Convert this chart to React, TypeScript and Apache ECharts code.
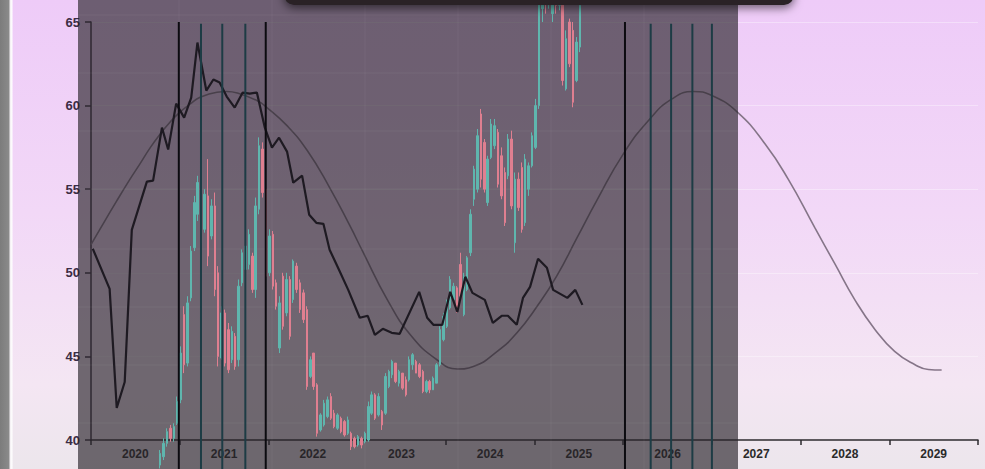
import React, { useEffect, useRef } from "react";
import * as echarts from "echarts";

// ---- axis categories ----
const yearLabels = ["2020", "2021", "2022", "2023", "2024", "2025", "2026", "2027", "2028", "2029"];
const yMin = 40;
const yMax = 65;
const yStep = 5;

// ---- cycle (sine-like) curve ----
const sineYears = [
  2020.0, 2020.1, 2020.29, 2020.44, 2020.55, 2020.67, 2020.78, 2020.89, 2021.0, 2021.12, 2021.23,
  2021.42, 2021.53, 2021.65, 2021.87, 2021.98, 2022.21, 2022.44, 2022.69, 2022.92, 2023.07, 2023.34,
  2023.6, 2023.9, 2024.13, 2024.31, 2024.58, 2024.8, 2025.03, 2025.25, 2025.48, 2025.7, 2026.0,
  2026.3, 2026.55, 2026.79, 2027.0, 2027.29, 2027.6, 2027.86, 2028.16, 2028.39, 2028.61, 2028.84,
  2029.06, 2029.29, 2029.44, 2029.59,
];
const sineValues = [
  51.68, 52.6, 54.3, 55.6, 56.5, 57.5, 58.3, 59.0, 59.6, 60.1, 60.5,
  60.8, 60.84, 60.75, 60.3, 59.9, 58.8, 57.3, 55.1, 52.8, 51.2, 48.4,
  46.3, 44.8, 44.25, 44.4, 45.3, 46.4, 48.0, 49.8, 52.1, 54.3, 57.1,
  59.2, 60.4, 60.84, 60.6, 59.6, 57.7, 55.6, 52.7, 50.5, 48.4, 46.6,
  45.3, 44.5, 44.22, 44.19,
];

// ---- black indicator line ----
const pmiYears = [
  2020.02, 2020.21, 2020.29, 2020.38, 2020.46, 2020.63, 2020.7, 2020.8, 2020.87, 2020.96,
  2021.05, 2021.13, 2021.2, 2021.3, 2021.38, 2021.45, 2021.53, 2021.62, 2021.71, 2021.79,
  2021.87, 2021.96, 2022.04, 2022.12, 2022.21, 2022.28, 2022.38, 2022.46, 2022.54, 2022.62,
  2022.69, 2022.78, 2022.9, 2023.03, 2023.12, 2023.2, 2023.29, 2023.39, 2023.48, 2023.7,
  2023.79, 2023.86, 2023.96, 2024.05, 2024.13, 2024.22, 2024.3, 2024.44, 2024.53, 2024.63,
  2024.7, 2024.8, 2024.87, 2024.95, 2025.04, 2025.14, 2025.21, 2025.37, 2025.46, 2025.54,
];
const pmiValues = [
  51.44, 49.04, 41.92, 43.47, 52.57, 55.45, 55.51, 58.68, 57.37, 60.12,
  59.28, 60.48, 63.77, 60.9, 61.56, 61.38, 60.54, 59.88, 60.78, 60.72,
  60.78, 58.68, 57.49, 58.08, 57.25, 55.39, 55.81, 53.47, 52.99, 52.93,
  51.38, 50.36, 48.98, 47.31, 47.43, 46.29, 46.65, 46.41, 46.35, 48.86,
  47.31, 46.89, 46.89, 48.86, 47.66, 49.76, 48.8, 48.38, 47.01, 47.43,
  47.43, 46.89, 48.5, 49.16, 50.84, 50.3, 48.98, 48.5, 48.98, 48.08,
];

// ---- candles: first date and spacing (two weeks), rows = [open, close, low, high] ----
const candleStart = 2020.78;
const candleStep = 1 / 26;
const candleRows = [
  [38.5, 39.2, 38.3, 39.4], [39.0, 39.8, 38.8, 40.1], [39.8, 40.5, 39.6, 40.7], [40.7, 40.1, 39.9, 40.9],
  [40.1, 40.8, 39.9, 41.0], [41.0, 42.3, 40.9, 42.6], [42.4, 45.2, 42.2, 45.6], [47.5, 44.5, 44.0, 48.0],
  [44.6, 48.2, 44.4, 48.6], [48.5, 51.3, 48.3, 51.6], [51.5, 54.2, 51.3, 54.6], [53.5, 55.4, 53.1, 55.8],
  [55.0, 51.8, 51.5, 55.2], [52.6, 54.7, 52.4, 55.0], [54.6, 51.0, 50.4, 56.8], [52.2, 54.0, 52.0, 54.4],
  [54.0, 49.0, 48.6, 54.8], [50.0, 45.0, 44.4, 50.4], [44.9, 47.6, 44.8, 48.0], [47.6, 44.6, 44.4, 47.8],
  [46.6, 44.2, 44.0, 47.0], [44.8, 46.5, 44.6, 46.8], [46.2, 44.4, 44.2, 46.4], [44.8, 49.2, 44.4, 49.6],
  [49.4, 51.2, 49.2, 51.4], [50.2, 51.6, 50.0, 51.8], [50.5, 52.3, 50.2, 52.6], [51.0, 49.0, 48.8, 51.2],
  [49.0, 54.0, 48.5, 54.5], [53.8, 57.6, 53.5, 58.1], [57.4, 54.8, 54.5, 57.8], [55.0, 49.8, 49.4, 55.3],
  [50.0, 52.2, 49.8, 52.6], [52.3, 49.2, 49.0, 52.5], [49.4, 48.0, 47.8, 49.6], [45.5, 48.2, 45.2, 48.6],
  [49.8, 46.8, 46.6, 50.0], [47.6, 49.6, 47.4, 50.0], [49.6, 46.2, 46.0, 49.8], [48.4, 50.7, 48.2, 50.8],
  [50.4, 49.0, 48.8, 50.6], [49.4, 47.8, 47.6, 49.6], [48.8, 47.2, 47.0, 49.0], [47.8, 43.2, 43.0, 48.0],
  [43.8, 44.8, 43.7, 45.0], [45.2, 43.2, 43.0, 45.2], [43.3, 40.4, 40.2, 43.4], [40.6, 41.5, 40.5, 41.6],
  [40.9, 42.2, 40.8, 42.4], [41.4, 42.4, 41.3, 42.6], [42.6, 41.3, 41.2, 42.8], [41.6, 40.8, 40.7, 41.8],
  [40.7, 41.5, 40.6, 41.6], [41.3, 40.5, 40.4, 41.4], [41.1, 40.3, 40.2, 41.2], [40.4, 41.2, 40.3, 41.4],
  [40.4, 39.6, 39.4, 40.5], [40.1, 39.6, 39.5, 40.2], [39.7, 40.2, 39.6, 40.3], [40.1, 39.7, 39.5, 40.2],
  [39.9, 40.4, 39.8, 40.5], [40.0, 42.0, 39.9, 42.3], [41.6, 42.7, 41.5, 42.9], [42.7, 41.3, 41.2, 42.8],
  [41.5, 42.6, 41.4, 42.8], [41.7, 40.9, 40.6, 41.8], [41.6, 43.8, 41.5, 44.0], [43.2, 44.1, 43.1, 44.2],
  [43.9, 44.7, 43.7, 44.8], [44.6, 43.5, 43.4, 44.6], [43.4, 44.1, 43.2, 44.2], [44.0, 43.1, 43.0, 44.0],
  [43.6, 42.7, 42.6, 43.8], [43.6, 44.8, 43.5, 45.0], [44.5, 45.1, 44.2, 45.2], [44.7, 44.0, 44.0, 44.8],
  [44.5, 43.8, 43.7, 44.6], [44.1, 42.9, 42.8, 44.2], [42.9, 43.5, 42.8, 43.6], [43.5, 43.0, 42.8, 43.6],
  [43.0, 43.7, 43.0, 43.8], [43.4, 44.5, 43.4, 44.6], [44.5, 46.6, 44.4, 46.8], [46.0, 47.4, 45.9, 47.6],
  [46.8, 48.2, 46.7, 48.4], [47.9, 49.6, 47.8, 49.8], [48.4, 49.2, 48.3, 49.4], [49.1, 47.8, 47.6, 49.2],
  [50.5, 48.6, 48.3, 51.2], [47.5, 49.8, 47.4, 50.0], [49.0, 50.9, 48.9, 51.0], [51.2, 53.5, 51.0, 53.8],
  [54.4, 56.2, 54.0, 56.4], [55.0, 58.2, 54.8, 58.6], [59.5, 55.6, 55.1, 59.8], [57.8, 55.0, 54.8, 58.0],
  [54.2, 56.8, 54.0, 57.0], [56.9, 58.9, 56.8, 59.2], [57.6, 58.8, 57.4, 59.2], [58.4, 55.3, 55.1, 58.6],
  [57.0, 54.6, 54.4, 57.5], [56.0, 53.0, 52.8, 56.3], [55.8, 58.0, 55.6, 58.3], [58.0, 54.0, 53.8, 58.5],
  [51.8, 55.6, 51.2, 56.0], [55.6, 53.9, 53.7, 56.0], [56.3, 52.6, 52.4, 56.6], [53.0, 56.8, 52.8, 57.1],
  [55.0, 56.4, 54.6, 56.6], [56.4, 58.2, 56.3, 58.4], [57.5, 60.0, 57.4, 60.4], [60.0, 66.5, 59.8, 67.5],
  [65.8, 67.2, 65.0, 68.0], [67.3, 66.2, 65.5, 68.0], [66.2, 67.5, 65.8, 68.2], [65.5, 67.0, 65.0, 68.0],
  [67.0, 66.0, 65.5, 68.2], [66.0, 67.5, 65.7, 68.5], [67.0, 61.5, 61.2, 67.5], [61.0, 64.0, 60.9, 64.5],
  [65.0, 62.5, 62.3, 65.2], [64.5, 60.2, 59.9, 65.0], [61.5, 63.8, 61.4, 64.1], [63.5, 66.0, 63.2, 67.0],
];

// ---- vertical marker lines ----
const blackLineYears = [2020.99, 2021.97, 2026.02];
const tealLineYears = [2021.24, 2021.48, 2021.74, 2026.31, 2026.54, 2026.78, 2027.0];
const lineTop = 65;
const lineBottom = 38.2;

export default function App() {
  const ref = useRef<HTMLDivElement>(null);

  useEffect(() => {
    if (!ref.current) return;
    const chart = echarts.init(ref.current, null, { renderer: "svg" });

    const candleData = candleRows.map((r, i) => [candleStart + i * candleStep, r[0], r[1], r[2], r[3]]);

    const makeVLine = (yr: number, color: string, top: number) => ({
      type: "line",
      xAxisIndex: 1,
      yAxisIndex: 0,
      data: [
        [yr, top],
        [yr, lineBottom],
      ],
      symbol: "none",
      clip: false,
      silent: true,
      z: 4,
      lineStyle: { color, width: 2 },
    });

    const overlayGrid: any[] = [];
    [15, 73, 131, 189, 249, 307, 365, 423].forEach((y) =>
      overlayGrid.push({
        type: "line",
        z: 1.6,
        silent: true,
        shape: { x1: 78, y1: y, x2: 738, y2: y },
        style: { stroke: "rgba(255,255,255,0.06)", lineWidth: 1 },
      })
    );
    [179, 272, 365, 458, 551, 644].forEach((x) =>
      overlayGrid.push({
        type: "line",
        z: 1.6,
        silent: true,
        shape: { x1: x, y1: 0, x2: x, y2: 469 },
        style: { stroke: "rgba(255,255,255,0.05)", lineWidth: 1 },
      })
    );

    chart.setOption({
      animation: false,
      backgroundColor: "transparent",
      grid: { left: 91, right: 7, top: 22, bottom: 29, containLabel: false },
      xAxis: [
        {
          type: "category",
          data: yearLabels,
          boundaryGap: true,
          position: "bottom",
          axisLine: { show: true, lineStyle: { color: "#2c2a2e", width: 1.5 } },
          axisTick: { show: true, length: 5, lineStyle: { color: "#2c2a2e", width: 1.5 } },
          axisLabel: {
            color: "#2a2a2a",
            fontFamily: "Liberation Sans, Arial, sans-serif",
            fontWeight: "bold",
            fontSize: 12,
            margin: 8,
          },
          splitLine: { show: false },
        },
        {
          type: "value",
          min: 2020,
          max: 2030,
          show: false,
          position: "bottom",
        },
      ],
      yAxis: {
        type: "value",
        min: yMin,
        max: yMax,
        interval: yStep,
        axisLine: { show: true, lineStyle: { color: "#3a3040", width: 1.5 } },
        axisTick: { show: true, length: 6, lineStyle: { color: "#3a3040", width: 1.5 } },
        axisLabel: {
          color: "#3b2d45",
          fontFamily: "Liberation Sans, Arial, sans-serif",
          fontWeight: "bold",
          fontSize: 13,
          margin: 11,
        },
        splitLine: { show: true, lineStyle: { color: "rgba(255,255,255,0.35)", width: 1 } },
      },
      graphic: {
        elements: [
          {
            type: "rect",
            z: 1.5,
            silent: true,
            shape: { x: 78, y: 0, width: 660, height: 469 },
            style: { fill: "rgba(40,35,42,0.65)" },
          },
          ...overlayGrid,
          {
            type: "rect",
            z: 10,
            silent: true,
            shape: { x: 284, y: -30, width: 510, height: 35, r: 10 },
            style: {
              fill: "#2a2128",
              shadowBlur: 10,
              shadowOffsetY: 3,
              shadowColor: "rgba(0,0,0,0.55)",
            },
          },
        ],
      },
      series: [
        {
          type: "line",
          name: "cycle",
          xAxisIndex: 1,
          data: sineYears.map((y, i) => [y, sineValues[i]]),
          smooth: true,
          symbol: "none",
          clip: false,
          z: 1,
          lineStyle: { color: "#857588", width: 1.6 },
        },
        {
          type: "candlestick",
          name: "price",
          xAxisIndex: 1,
          data: candleData,
          encode: { x: 0, y: [1, 2, 3, 4] },
          barWidth: 2,
          clip: false,
          z: 2,
          itemStyle: {
            color: "#5fb6ae",
            color0: "#df7f90",
            borderColor: "#5fb6ae",
            borderColor0: "#df7f90",
            borderWidth: 1,
          },
        },
        {
          type: "line",
          name: "indicator",
          xAxisIndex: 1,
          data: pmiYears.map((y, i) => [y, pmiValues[i]]),
          symbol: "none",
          clip: false,
          z: 3,
          lineStyle: { color: "#1e1a22", width: 2.2 },
        },
        ...blackLineYears.map((y) => makeVLine(y, "#0c0b10", lineTop)),
        ...tealLineYears.map((y) => makeVLine(y, "#1d3c45", lineTop - 0.1)),
      ],
    });

    return () => chart.dispose();
  }, []);

  return (
    <div
      ref={ref}
      style={{
        position: "fixed",
        left: 0,
        top: 0,
        width: 985,
        height: 469,
        background:
          "linear-gradient(to right, #7c7c7c 0px, #8a8a8a 9px, #f2eef2 10px, #ffffff 12px, rgba(255,255,255,0) 13px), linear-gradient(to bottom, #eecbf8 0%, #f2d8f7 45%, #f4e6f3 82%, #ece6ec 100%)",
      }}
    />
  );
}
